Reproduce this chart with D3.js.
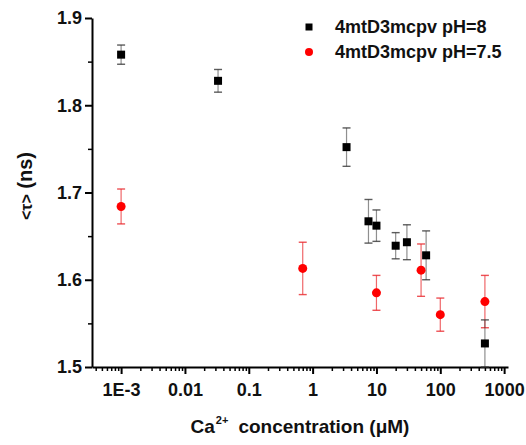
<!DOCTYPE html>
<html>
<head>
<meta charset="utf-8">
<script src="https://cdn.jsdelivr.net/npm/d3@7"></script>
<style>
  html, body { margin: 0; padding: 0; background: #fff; }
  svg { display: block; font-family: "Liberation Sans", Arial, sans-serif; font-weight: bold; }
</style>
</head>
<body>
<div id="chart"></div>
<script>
// ---------------------------------------------------------------- DATA
const seriesNames = ['4mtD3mcpv pH=8', '4mtD3mcpv pH=7.5'];

// pH = 8 (black squares)
const ph8Conc = [0.001, 0.033, 3.4, 7.5, 10, 20, 30, 60, 500];
const ph8Tau  = [1.858, 1.828, 1.752, 1.667, 1.662, 1.639, 1.643, 1.628, 1.527];
const ph8Err  = [0.011, 0.013, 0.022, 0.025, 0.018, 0.015, 0.02, 0.028, 0.027];

// pH = 7.5 (red circles)
const ph75Conc = [0.001, 0.7, 10, 50, 100, 500];
const ph75Tau  = [1.684, 1.613, 1.585, 1.611, 1.560, 1.575];
const ph75Err  = [0.020, 0.030, 0.020, 0.030, 0.019, 0.030];

const xTicks = [0.001, 0.01, 0.1, 1, 10, 100, 1000];
const xTickLabels = ['1E-3', '0.01', '0.1', '1', '10', '100', '1000'];
const yTicks = [1.5, 1.6, 1.7, 1.8, 1.9];

// ---------------------------------------------------------------- SVG
const width = 526, height = 445;
const margin = { top: 18, right: 18, bottom: 78, left: 92 };

const svg = d3.select('#chart').append('svg')
  .attr('width', width)
  .attr('height', height);

const x = d3.scaleLog()
  .domain([3.5e-4, 1150])
  .range([margin.left, width - margin.right]);

const y = d3.scaleLinear()
  .domain([1.5, 1.9])
  .range([height - margin.bottom, margin.top]);

// ---------------------------------------------------------------- AXES
const minorX = [];
for (let e = -4; e <= 3; e++) {
  for (let m = 2; m <= 9; m++) {
    const v = m * Math.pow(10, e);
    if (v >= x.domain()[0] && v <= x.domain()[1]) minorX.push(v);
  }
}
const minorY = [1.55, 1.65, 1.75, 1.85];

const gx = svg.append('g')
  .attr('transform', `translate(0,${y(1.5)})`);
gx.append('g')
  .call(d3.axisBottom(x).tickValues(minorX).tickSize(4).tickFormat(''))
  .call(g => g.select('.domain').remove())
  .call(g => g.selectAll('line').attr('stroke-width', 1.5));
gx.append('g')
  .call(d3.axisBottom(x).tickValues(xTicks).tickSize(7).tickSizeOuter(0)
    .tickFormat((d, i) => xTickLabels[i]))
  .call(g => g.select('.domain').attr('stroke-width', 2))
  .call(g => g.selectAll('line').attr('stroke-width', 2))
  .call(g => g.selectAll('text')
    .attr('font-size', 18).attr('font-family', null).attr('dy', '1.05em').attr('fill', '#111'));

const gy = svg.append('g')
  .attr('transform', `translate(${margin.left},0)`);
gy.append('g')
  .call(d3.axisLeft(y).tickValues(minorY).tickSize(4).tickFormat(''))
  .call(g => g.select('.domain').remove())
  .call(g => g.selectAll('line').attr('stroke-width', 1.5));
gy.append('g')
  .call(d3.axisLeft(y).tickValues(yTicks).tickSize(7).tickSizeOuter(0).tickFormat(d3.format('.1f')))
  .call(g => g.select('.domain').attr('stroke-width', 2))
  .call(g => g.selectAll('line').attr('stroke-width', 2))
  .call(g => g.selectAll('text')
    .attr('font-size', 18).attr('font-family', null).attr('x', -10).attr('fill', '#111'));

// ---------------------------------------------------------------- LABELS
const xLabel = svg.append('text')
  .attr('x', 300).attr('y', 433)
  .attr('text-anchor', 'middle')
  .attr('font-size', 19)
  .attr('fill', '#111');
xLabel.append('tspan').text('Ca');
xLabel.append('tspan').text('2+').attr('font-size', 11).attr('dy', -9).attr('dx', 1);
xLabel.append('tspan').text('concentration (μM)').attr('dy', 9).attr('dx', 10);

const yLabel = svg.append('text')
  .attr('transform', `translate(32,186) rotate(-90)`)
  .attr('text-anchor', 'middle')
  .attr('fill', '#111');
yLabel.append('tspan').text('<τ>').attr('font-size', 16);
yLabel.append('tspan').text(' (ns)').attr('font-size', 20);

// ---------------------------------------------------------------- DATA MARKS
const ph8 = ph8Conc.map((c, i) => ({ c, t: ph8Tau[i], e: ph8Err[i] }));
const ph75 = ph75Conc.map((c, i) => ({ c, t: ph75Tau[i], e: ph75Err[i] }));

function errorBars(data, color, opacity) {
  const g = svg.append('g').attr('stroke', color);
  g.selectAll('line.v').data(data).join('line')
    .attr('x1', d => x(d.c)).attr('x2', d => x(d.c))
    .attr('y1', d => y(d.t - d.e)).attr('y2', d => y(d.t + d.e))
    .attr('stroke-width', 1.2).attr('stroke-opacity', opacity);
  ['-', '+'].forEach(s => {
    g.selectAll('line.c' + (s === '+' ? 'p' : 'm')).data(data).join('line')
      .attr('x1', d => x(d.c) - 4).attr('x2', d => x(d.c) + 4)
      .attr('y1', d => y(s === '+' ? d.t + d.e : d.t - d.e))
      .attr('y2', d => y(s === '+' ? d.t + d.e : d.t - d.e))
      .attr('stroke-width', 1.4).attr('stroke-opacity', 0.8);
  });
}

errorBars(ph75, '#e8262a', 0.7);
errorBars(ph8, '#333', 0.55);

svg.append('g').selectAll('circle').data(ph75).join('circle')
  .attr('cx', d => x(d.c)).attr('cy', d => y(d.t))
  .attr('r', 4.5).attr('fill', '#f00');

svg.append('g').selectAll('rect').data(ph8).join('rect')
  .attr('x', d => x(d.c) - 4).attr('y', d => y(d.t) - 4)
  .attr('width', 8).attr('height', 8).attr('fill', '#000');

// ---------------------------------------------------------------- LEGEND
const legend = svg.append('g').attr('transform', 'translate(309,27)');
legend.append('rect').attr('x', -3.5).attr('y', -3.5).attr('width', 7).attr('height', 7).attr('fill', '#000');
legend.append('circle').attr('cx', 0).attr('cy', 25).attr('r', 4).attr('fill', '#f00');
legend.selectAll('text').data(seriesNames).join('text')
  .attr('x', 26).attr('y', (d, i) => i * 25 + 6)
  .attr('font-size', 18)
  .attr('fill', '#111')
  .text(d => d);
</script>
</body>
</html>
